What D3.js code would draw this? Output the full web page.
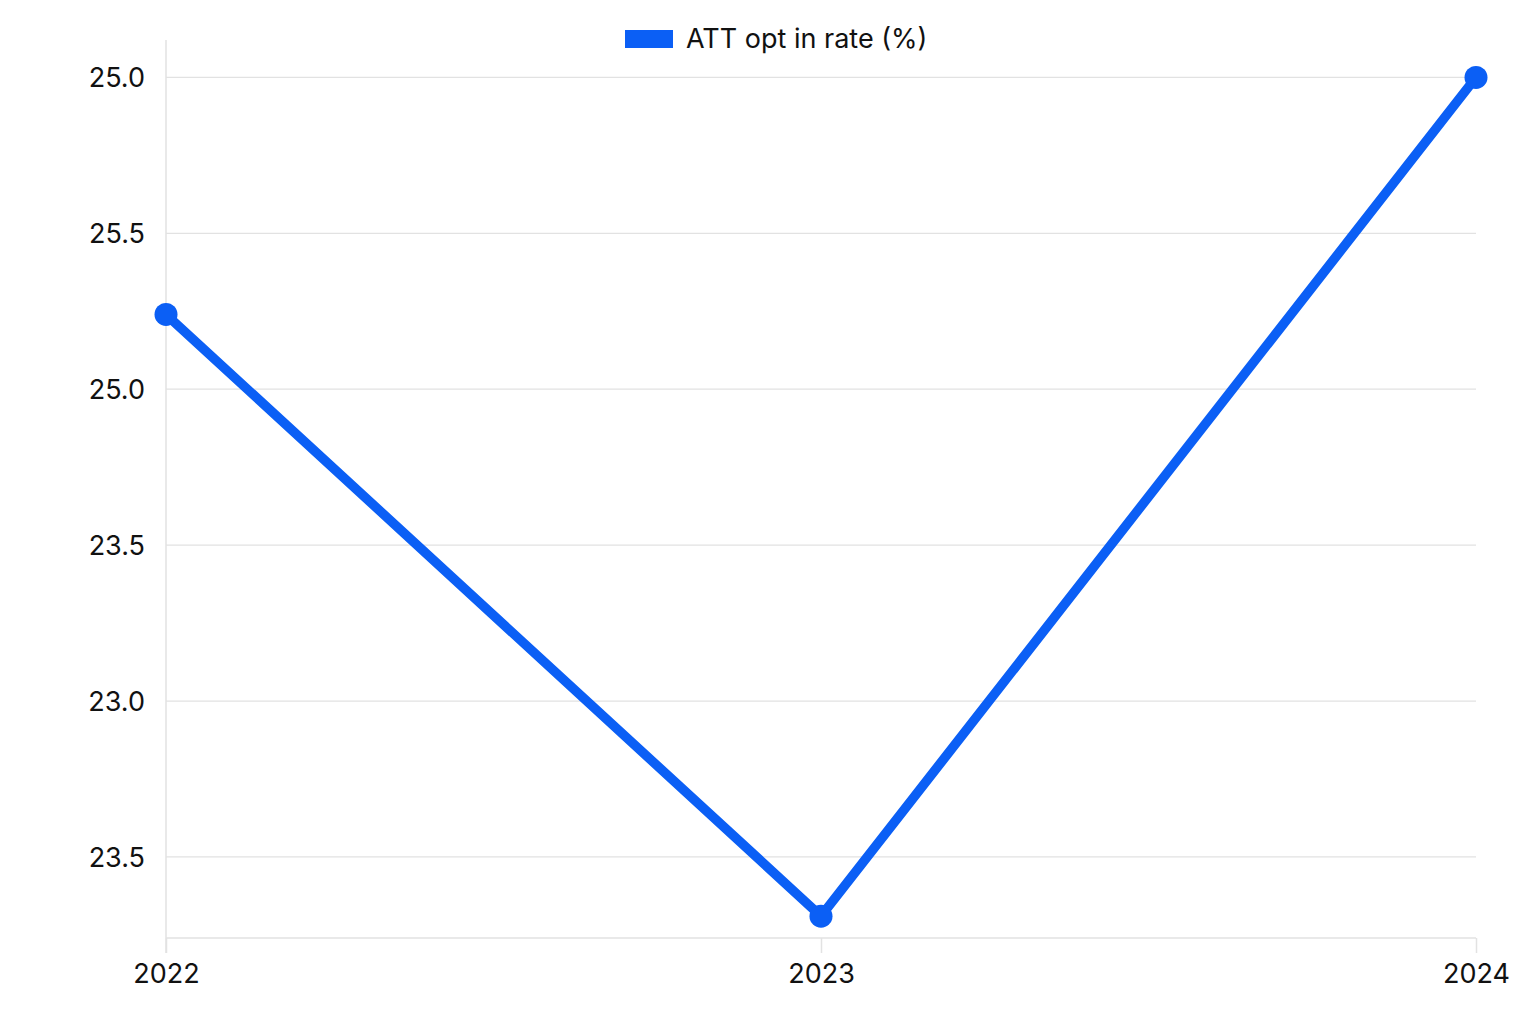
<!DOCTYPE html>
<html>
<head>
<meta charset="utf-8">
<script src="https://cdn.jsdelivr.net/npm/d3@7"></script>
<style>
  body { margin: 0; background: #fff; }
  text { font-family: Inter, "Noto Sans", sans-serif; fill: #111; }
</style>
</head>
<body>
<div id="chart"></div>
<script>
// data
const years = ["2022", "2023", "2024"];
const optInRate = [25.24, 23.31, 26.0];
const yTickValues = [26.0, 25.5, 25.0, 24.5, 24.0, 23.5];
const yTickLabels = ["25.0", "25.5", "25.0", "23.5", "23.0", "23.5"];
const seriesName = "ATT opt in rate (%)";

const width = 1536, height = 1024;
const margins = { top: 40, bottom: 86, left: 166, right: 60 };
const lineColor = "#0b5ff5";
const gridColor = "#e2e2e2";

const svg = d3.select("#chart")
  .append("svg")
  .attr("width", width)
  .attr("height", height);

const xScale = d3.scalePoint()
  .domain(years)
  .range([margins.left, width - margins.right]);

const yScale = d3.scaleLinear()
  .domain([23.24, 26.12])
  .range([height - margins.bottom, margins.top]);

// horizontal gridlines
svg.append("g")
  .selectAll("line")
  .data(yTickValues)
  .join("line")
  .attr("x1", margins.left)
  .attr("x2", width - margins.right)
  .attr("y1", d => yScale(d))
  .attr("y2", d => yScale(d))
  .attr("stroke", gridColor)
  .attr("stroke-width", 1.2);

// y axis
const yAxis = svg.append("g")
  .attr("transform", `translate(${margins.left},0)`)
  .call(d3.axisLeft(yScale)
    .tickValues(yTickValues)
    .tickSize(0)
    .tickPadding(21)
    .tickFormat((d, i) => yTickLabels[i]));
yAxis.select(".domain")
  .attr("d", `M0,${margins.top}V${height - margins.bottom + 15}`)
  .attr("stroke", gridColor)
  .attr("stroke-width", 1.5);
yAxis.selectAll("text")
  .attr("font-size", 27)
  .attr("dy", "0.35em");

// x axis
const xAxis = svg.append("g")
  .attr("transform", `translate(0,${height - margins.bottom})`)
  .call(d3.axisBottom(xScale)
    .tickSize(15)
    .tickPadding(11));
xAxis.select(".domain")
  .attr("d", `M${margins.left},0H${width - margins.right}`)
  .attr("stroke", gridColor)
  .attr("stroke-width", 1.5);
xAxis.selectAll(".tick line")
  .attr("stroke", gridColor)
  .attr("stroke-width", 1.5);
xAxis.selectAll("text")
  .attr("font-size", 27);

// line
const valueLine = d3.line()
  .x((d, i) => xScale(years[i]))
  .y(d => yScale(d));

svg.append("path")
  .datum(optInRate)
  .attr("fill", "none")
  .attr("stroke", lineColor)
  .attr("stroke-width", 9.5)
  .attr("stroke-linejoin", "round")
  .attr("d", valueLine);

svg.append("g")
  .selectAll("circle")
  .data(optInRate)
  .join("circle")
  .attr("cx", (d, i) => xScale(years[i]))
  .attr("cy", d => yScale(d))
  .attr("r", 11.5)
  .attr("fill", lineColor);

// legend
const legend = svg.append("g").attr("transform", "translate(625,30)");
legend.append("rect")
  .attr("width", 48)
  .attr("height", 18)
  .attr("fill", lineColor);
legend.append("text")
  .attr("x", 61)
  .attr("y", 9)
  .attr("dy", "0.35em")
  .attr("font-size", 27)
  .text(seriesName);
</script>
</body>
</html>
